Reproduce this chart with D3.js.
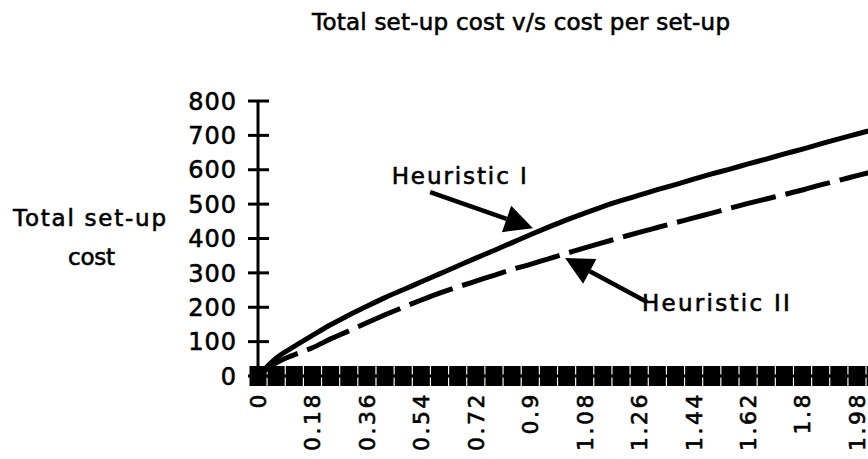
<!DOCTYPE html>
<html>
<head>
<meta charset="utf-8">
<script src="https://cdn.jsdelivr.net/npm/d3@7"></script>
<style>
  html, body { margin: 0; padding: 0; background: #fff; overflow: hidden; }
  svg { display: block; font-family: "DejaVu Sans", sans-serif; }
  svg text { fill: #000; stroke: #000; stroke-width: 0.6px; }
</style>
</head>
<body>
<script>
// cost per set-up (category axis, one point every 0.06)
const costPerSetup = [0, 0.06, 0.12, 0.18, 0.24, 0.30, 0.36, 0.42, 0.48, 0.54, 0.60, 0.66,
  0.72, 0.78, 0.84, 0.90, 0.96, 1.02, 1.08, 1.14, 1.20, 1.26, 1.32, 1.38, 1.44, 1.50,
  1.56, 1.62, 1.68, 1.74, 1.80, 1.86, 1.92, 1.98, 2.04];

// total set-up cost
const heuristic1 = [0, 52, 86, 118, 149, 177, 203, 228, 251, 274, 297, 320, 343, 365, 388,
  411, 433, 454, 474, 493, 510, 526, 542, 557, 573, 588, 602, 617, 631, 646, 660, 675,
  690, 704, 718];
const heuristic2 = [0, 38, 62, 82, 108, 131, 155, 178, 200, 221, 241, 259, 276, 293, 310,
  325, 341, 357, 373, 388, 403, 418, 432, 446, 460, 474, 488, 502, 515, 528, 541, 556,
  569, 583, 596];
const baseline = [0, 0, 0, 0, 0, 0, 0, 0, 0, 0, 0, 0, 0, 0, 0, 0, 0, 0, 0, 0, 0, 0, 0, 0,
  0, 0, 0, 0, 0, 0, 0, 0, 0, 0, 0];

const yTicks = [0, 100, 200, 300, 400, 500, 600, 700, 800];
const xTickLabels = ['0', '0.18', '0.36', '0.54', '0.72', '0.9', '1.08', '1.26', '1.44',
  '1.62', '1.8', '1.98'];

const width = 868, height = 459;

const svg = d3.select('body').append('svg')
    .attr('width', width)
    .attr('height', height);

const x = d3.scaleLinear().domain([0, 1.98]).range([258, 857]);
const y = d3.scaleLinear().domain([0, 800]).range([376, 101]);

// title
svg.append('text')
    .attr('x', 312).attr('y', 30)
    .attr('textLength', 418).attr('lengthAdjust', 'spacing')
    .style('font-size', '23px')
    .text('Total set-up cost v/s cost per set-up');

// y axis title
svg.append('text')
    .attr('x', 13).attr('y', 226)
    .attr('textLength', 153).attr('lengthAdjust', 'spacing')
    .style('font-size', '23px')
    .text('Total set-up');
svg.append('text')
    .attr('x', 68).attr('y', 265)
    .attr('textLength', 47).attr('lengthAdjust', 'spacing')
    .style('font-size', '23px')
    .text('cost');

// y axis with crossing ticks
svg.append('line')
    .attr('x1', x(0)).attr('x2', x(0))
    .attr('y1', y(800)).attr('y2', y(0))
    .attr('stroke', '#000').attr('stroke-width', 3);

const yt = svg.append('g').selectAll('g')
    .data(yTicks).join('g')
    .attr('transform', d => `translate(0,${y(d)})`);
yt.append('line')
    .attr('x1', x(0) - 10).attr('x2', x(0) + 11)
    .attr('stroke', '#000').attr('stroke-width', 3);
yt.append('text')
    .attr('x', 237).attr('dy', '0.36em')
    .attr('text-anchor', 'end')
    .style('font-size', '24px')
    .style('letter-spacing', '1px')
    .text(d => d);

// x axis line
svg.append('line')
    .attr('x1', x(0)).attr('x2', width)
    .attr('y1', y(0)).attr('y2', y(0))
    .attr('stroke', '#000').attr('stroke-width', 3);

// x tick labels, rotated
svg.append('g').selectAll('text')
    .data(xTickLabels).join('text')
    .attr('transform', d => `translate(${x(+d)},392) rotate(-90)`)
    .attr('dy', '0.36em')
    .attr('text-anchor', 'end')
    .style('font-size', '22px')
    .style('letter-spacing', '2.5px')
    .text(d => d);

// curves
const line = vals => d3.line()
    .x((d, i) => x(costPerSetup[i]))
    .y(d => y(d))
    .curve(d3.curveMonotoneX)(vals);

svg.append('path')
    .attr('d', line(heuristic1))
    .attr('fill', 'none').attr('stroke', '#000')
    .attr('stroke-width', 5).attr('stroke-linecap', 'round');

svg.append('path')
    .attr('d', line(heuristic2))
    .attr('fill', 'none').attr('stroke', '#000')
    .attr('stroke-width', 5).attr('stroke-dasharray', '46,10');

// square markers on the zero series
svg.append('g').selectAll('rect')
    .data(baseline).join('rect')
    .attr('x', (d, i) => x(costPerSetup[i]) - 8.5)
    .attr('y', d => y(d) - 10)
    .attr('width', 17).attr('height', 20)
    .attr('fill', '#000');

// annotations (positions in data units)
const notes = [
  { label: 'Heuristic I', lx: 0.665, ly: 558, anchor: 'middle', len: 135,
    tail: [0.569, 535], tip: [0.909, 430] },
  { label: 'Heuristic II', lx: 1.269, ly: 189, anchor: 'start', len: 148,
    tail: [1.286, 215], tip: [1.015, 343] }
];

notes.forEach(n => {
  const tx = x(n.tail[0]), ty = y(n.tail[1]);
  const px = x(n.tip[0]), py = y(n.tip[1]);
  const ang = Math.atan2(py - ty, px - tx);
  const hl = 28, hw = 14;
  const bx = px - hl * Math.cos(ang), by = py - hl * Math.sin(ang);
  svg.append('line')
      .attr('x1', tx).attr('y1', ty).attr('x2', bx).attr('y2', by)
      .attr('stroke', '#000').attr('stroke-width', 4.5);
  svg.append('path')
      .attr('d', d3.line()([
        [px, py],
        [bx + hw * Math.sin(ang), by - hw * Math.cos(ang)],
        [bx - hw * Math.sin(ang), by + hw * Math.cos(ang)]
      ]) + 'Z')
      .attr('fill', '#000');
  svg.append('text')
      .attr('x', x(n.lx)).attr('y', y(n.ly))
      .attr('text-anchor', n.anchor)
      .attr('textLength', n.len).attr('lengthAdjust', 'spacing')
      .style('font-size', '23px')
      .text(n.label);
});
</script>
</body>
</html>
